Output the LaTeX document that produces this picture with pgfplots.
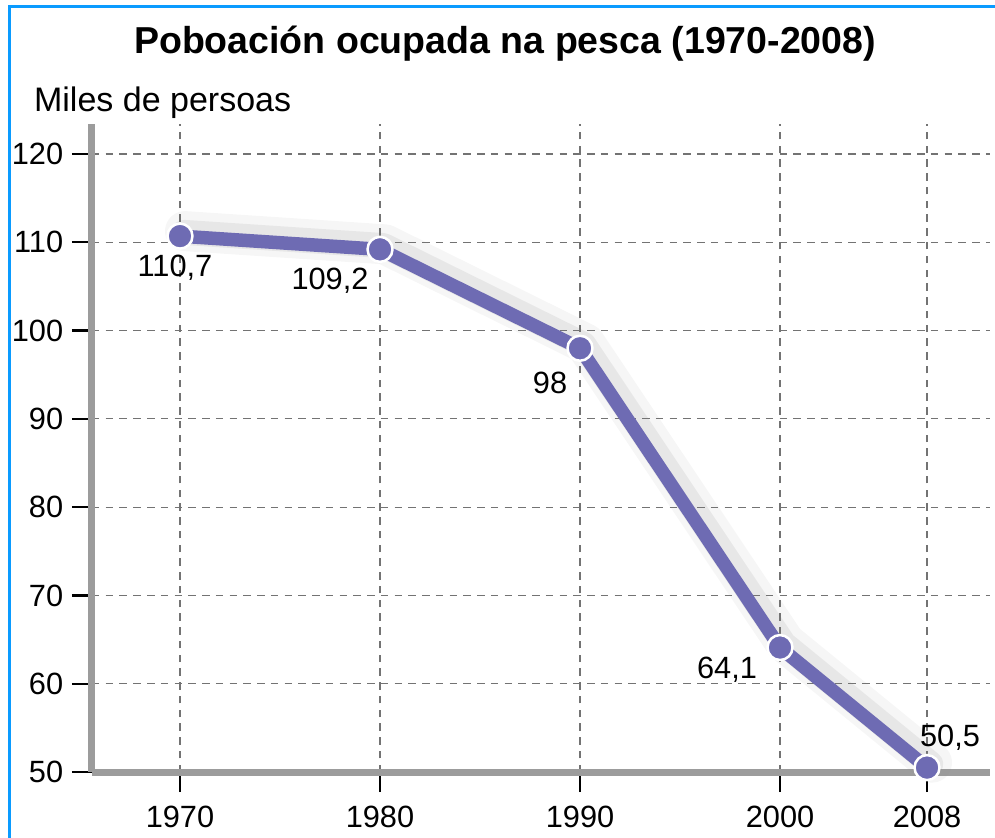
\documentclass[border=0pt]{standalone}
\usepackage{pgfplots}
\pgfplotsset{compat=1.18}
\usepackage{fontspec}
\setmainfont{Liberation Sans}
\definecolor{purp}{HTML}{6E6BB3}
\definecolor{frameblue}{HTML}{0A9BFF}
\definecolor{axgray}{HTML}{9C9C9C}
\begin{document}
\begin{tikzpicture}
\useasboundingbox (-36.8pt,-26pt) rectangle (361.2pt,308.8pt);
\fill[white] (-36.8pt,-26pt) rectangle (361.2pt,308.8pt);
\begin{axis}[
  at={(0,0)}, anchor=south west,
  scale only axis, width=359.2pt, height=259.2pt,
  xmin=-0.44, xmax=4.05, ymin=50, ymax=123.4,
  axis x line=bottom, axis y line=left,
  axis line style={-, axgray, line width=2.8pt},
  xtick={0,1,2,3,3.735},
  xticklabels={1970,1980,1990,2000,2008},
  ytick={50,60,...,120},
  tick align=outside, major tick length=8pt,
  tick style={black, line width=0.9pt},
  grid=major,
  grid style={black!55, line width=0.5pt, dash pattern=on 3pt off 2.5pt},
  clip=false,
  /pgf/number format/assume math mode=true,
  tick label style={font=\fontsize{12.3}{14}\selectfont},
  xticklabel style={yshift=-2pt},
  title={Poboación ocupada na pesca (1970-2008)},
  title style={at={(0.46,1)}, anchor=center, yshift=26pt, font=\bfseries\fontsize{15}{17}\selectfont},
]
\addplot[gray, opacity=0.07, line width=16pt, xshift=2pt, yshift=2pt, line join=round, line cap=round] coordinates {(0,110.7) (1,109.2) (2,98) (3,64.1) (3.735,50.5)};
\addplot[gray, opacity=0.12, line width=10pt, xshift=1.5pt, yshift=1.5pt, line join=round, line cap=round] coordinates {(0,110.7) (1,109.2) (2,98) (3,64.1) (3.735,50.5)};
\addplot[purp, line width=5.4pt, line join=round, mark=*, mark size=5pt,
  mark options={fill=purp, draw=white, line width=1pt}]
  coordinates {(0,110.7) (1,109.2) (2,98) (3,64.1) (3.735,50.5)};
\node[font=\fontsize{12.3}{14}\selectfont] at (axis cs:-0.025,107.1) {110,7};
\node[font=\fontsize{12.3}{14}\selectfont] at (axis cs:0.75,105.7) {109,2};
\node[font=\fontsize{12.3}{14}\selectfont] at (axis cs:1.85,94.05) {98};
\node[font=\fontsize{12.3}{14}\selectfont] at (axis cs:2.735,61.55) {64,1};
\node[font=\fontsize{12.3}{14}\selectfont] at (axis cs:3.85,53.9) {50,5};
\node[anchor=west, inner sep=0pt, font=\fontsize{13.6}{15}\selectfont] at (rel axis cs:-0.065,1.0324) {Miles de persoas};
\end{axis}
\draw[frameblue, line width=1.3pt] (-33pt,-27pt) -- (-33pt,306.2pt) -- (362pt,306.2pt);
\end{tikzpicture}
\end{document}
